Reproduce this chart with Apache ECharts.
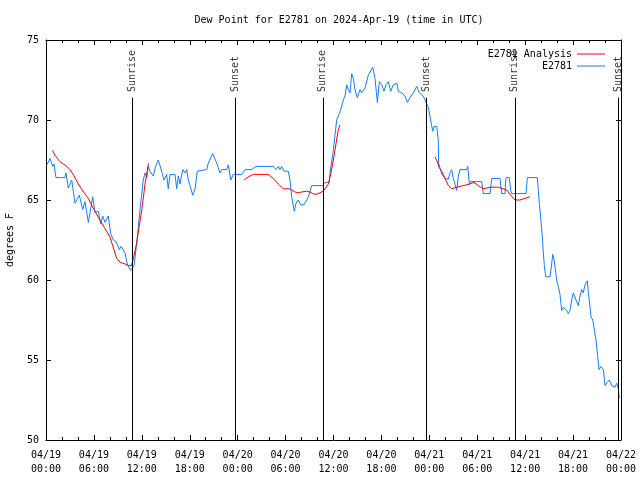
<!DOCTYPE html>
<html><head><meta charset="utf-8">
<script src="https://cdn.jsdelivr.net/npm/echarts@6/dist/echarts.min.js"></script>
<style>html,body{margin:0;padding:0;background:#fff}#c{width:640px;height:480px}</style>
</head><body><div id="c"></div><script>
// hours since 2024-04-19 00:00 UTC
const stationName = 'E2781';
const analysisName = 'E2781 Analysis';
const stationData = [
[0.12,67.2],[0.29,67.25],[0.5,67.6],[0.84,67.1],[1.0,67.25],[1.25,66.4],[2.38,66.4],[2.5,66.7],[2.79,65.75],[3.22,66.25],
[3.63,64.8],[4.17,65.3],[4.6,64.4],[4.88,64.9],[5.3,63.6],[5.85,65.2],[6.14,64.2],[6.55,64.3],[6.85,63.5],[7.1,64.0],
[7.39,63.6],[7.8,64.0],[8.1,62.9],[8.43,62.5],[8.77,62.4],[9.18,61.9],[9.39,62.1],[9.89,61.7],[10.18,61.0],[10.43,60.9],
[10.61,60.6],[11.02,60.9],[11.36,62.3],[11.77,64.4],[12.18,66.25],[12.4,66.7],[12.61,66.4],[12.81,67.1],[13.02,66.8],[13.43,66.5],
[13.73,67.1],[14.06,67.5],[14.36,67.0],[14.78,66.25],[15.11,66.6],[15.31,65.7],[15.53,66.6],[16.15,66.6],[16.37,65.7],[16.57,66.5],
[16.78,66.0],[17.12,66.9],[17.41,66.7],[17.62,66.9],[17.82,66.25],[18.03,65.9],[18.37,65.3],[18.66,65.7],[18.95,66.8],[19.07,66.9],
[20.12,66.9],[20.32,67.3],[20.87,67.9],[21.38,67.3],[21.79,66.7],[22.0,66.9],[22.63,66.9],[22.83,67.2],[23.13,66.25],[23.45,66.6],
[24.5,66.6],[24.92,66.9],[25.76,66.9],[25.96,66.8],[26.3,67.1],[28.46,67.1],[28.8,66.9],[29.09,67.1],[29.3,66.9],[29.51,67.1],
[29.8,66.8],[30.34,66.8],[30.55,66.25],[30.77,65.2],[31.09,64.3],[31.3,64.8],[31.59,65.0],[31.89,64.7],[32.31,64.7],[32.85,65.2],
[33.27,65.9],[34.65,65.9],[34.94,66.1],[35.47,66.1],[35.56,66.7],[35.98,68.1],[36.4,70.0],[36.81,70.5],[37.23,71.25],[37.44,71.5],
[37.65,72.2],[37.85,71.9],[38.07,71.7],[38.28,72.9],[38.48,72.6],[38.69,71.9],[38.98,71.4],[39.32,71.9],[39.53,71.7],[39.94,72.0],
[40.36,72.8],[40.91,73.3],[41.2,72.6],[41.49,71.1],[41.74,72.4],[42.04,72.2],[42.32,71.8],[42.57,72.2],[42.86,72.4],[43.16,71.8],
[43.49,72.2],[43.92,72.3],[44.11,71.8],[44.54,71.7],[44.95,71.5],[45.24,71.1],[45.58,71.4],[45.99,71.7],[46.42,72.1],[46.74,71.7],
[47.25,71.5],[47.67,71.0],[47.87,70.8],[48.08,70.2],[48.42,69.3],[48.59,69.6],[48.92,69.6],[49.12,68.75],[49.16,67.3],[49.34,67.0],
[49.55,66.6],[49.96,66.35],[50.38,66.3],[50.59,66.7],[50.8,66.9],[51.0,66.35],[51.43,65.6],[51.63,66.5],[51.84,66.9],[52.68,66.9],
[52.81,67.1],[53.01,66.0],[53.18,66.15],[54.56,66.15],[54.76,65.4],[55.6,65.4],[55.81,66.35],[56.85,66.35],[57.06,65.4],[57.47,65.4],
[57.6,66.4],[58.01,66.4],[58.19,65.6],[58.32,65.4],[60.11,65.4],[60.27,66.4],[61.52,66.4],[61.77,64.8],[61.94,63.9],[62.15,62.7],
[62.27,61.7],[62.4,60.9],[62.57,60.2],[63.11,60.2],[63.32,61.0],[63.45,61.6],[63.61,61.3],[63.74,60.8],[63.95,60.0],[64.15,59.6],
[64.36,59.1],[64.57,58.1],[64.78,58.3],[64.99,58.2],[65.2,58.1],[65.4,57.9],[65.61,58.1],[65.83,58.75],[66.03,59.2],[66.24,59.2],
[66.45,58.65],[66.65,58.4],[66.87,59.0],[67.08,59.4],[67.28,59.2],[67.49,59.7],[67.78,59.95],[67.91,59.2],[68.12,58.3],[68.24,57.7],
[68.46,57.5],[68.66,57.4],[68.87,56.25],[69.08,55.2],[69.25,54.4],[69.5,54.6],[69.79,54.4],[70.0,53.4],[70.28,53.6],[70.54,53.75],
[70.84,53.4],[71.25,53.3],[71.46,53.55],[71.66,53.2],[71.79,52.6]
];
const analysisSeg1 = [
[0.8,68.1],[1.1,67.8],[1.75,67.4],[2.6,67.1],[3.0,66.9],[3.4,66.6],[4.05,66.0],[4.7,65.5],[5.3,65.1],[5.9,64.5],
[6.75,63.75],[7.4,63.2],[8.0,62.7],[8.45,62.0],[8.85,61.35],[9.3,61.1],[9.9,61.0],[10.3,60.9],[10.7,60.9],[10.95,61.35],
[11.35,62.3],[11.65,63.3],[12.0,64.4],[12.4,66.0],[12.8,67.2],[12.85,67.3]
];
const analysisSeg2 = [
[24.8,66.25],[25.33,66.45],[25.96,66.6],[26.8,66.6],[27.84,66.6],[28.46,66.35],[29.09,66.0],[29.71,65.7],[30.55,65.7],[31.18,65.5],
[31.6,65.45],[32.02,65.5],[32.64,65.55],[33.06,65.5],[33.4,65.4],[33.81,65.35],[34.31,65.45],[34.81,65.6],[35.35,66.0],[35.69,66.7],
[35.98,67.5],[36.31,68.5],[36.6,69.4],[36.81,69.7]
];
const analysisSeg3 = [
[48.71,67.7],[49.0,67.4],[49.25,67.0],[49.55,66.8],[49.96,66.35],[50.38,65.9],[50.8,65.7],[51.43,65.8],[52.25,65.9],[53.09,66.0],
[53.59,66.1],[54.13,65.9],[54.76,65.7],[55.6,65.8],[56.64,65.8],[57.26,65.7],[57.76,65.6],[58.19,65.3],[58.73,65.0],[59.35,65.0],
[59.98,65.1],[60.6,65.2]
];
const sunHours = [10.79, 23.75, 34.66, 47.67, 58.7, 71.66];
const sunNames = ['Sunrise', 'Sunset', 'Sunrise', 'Sunset', 'Sunrise', 'Sunset'];
const xTickLabels = ['04/19\n00:00','04/19\n06:00','04/19\n12:00','04/19\n18:00','04/20\n00:00','04/20\n06:00','04/20\n12:00','04/20\n18:00','04/21\n00:00','04/21\n06:00','04/21\n12:00','04/21\n18:00','04/22\n00:00'];
const yMin = 50, yMax = 75;
const sunLineTop = 71.4;   // where the sun lines end (below the label)
const sunLabelBase = 71.75;

const FONT = 'DejaVu Sans Mono';
const analysisData = analysisSeg1.concat([[12.9,'-']], analysisSeg2, [[36.9,'-']], analysisSeg3);

const chart = echarts.init(document.getElementById('c'), null, {renderer:'canvas'});
const xCommon = {
  type:'value', min:0, max:72, interval:6,
  axisLine:{show:true, onZero:false, lineStyle:{color:'#000', width:1}},
  axisTick:{show:true, inside:true, length:5, lineStyle:{color:'#000'}},
  minorTick:{show:true, splitNumber:3, length:3, lineStyle:{color:'#000'}},
  splitLine:{show:false}, minorSplitLine:{show:false}
};
const yCommon = {
  type:'value', min:yMin, max:yMax, interval:5,
  axisLine:{show:true, onZero:false, lineStyle:{color:'#000', width:1}},
  axisTick:{show:true, inside:true, length:5, lineStyle:{color:'#000'}},
  splitLine:{show:false}
};
chart.setOption({
  animation:false,
  backgroundColor:'#fff',
  title:{text:'Dew Point for E2781 on 2024-Apr-19 (time in UTC)', left:334, top:10, textAlign:'center',
    textStyle:{fontFamily:FONT, fontSize:10, fontWeight:'normal', color:'#000'}},
  grid:{left:46, right:19, top:40, bottom:40, containLabel:false, outerBoundsMode:'none'},
  legend:[
    {data:[analysisName], right:30, top:44, align:'right', icon:'rect', itemWidth:28, itemHeight:1, itemGap:0,
     textStyle:{fontFamily:FONT, fontSize:10, color:'#000'}},
    {data:[stationName], right:30, top:56, align:'right', icon:'rect', itemWidth:28, itemHeight:1, itemGap:0,
     textStyle:{fontFamily:FONT, fontSize:10, color:'#000'}}
  ],
  xAxis:[
    Object.assign({}, xCommon, {position:'bottom',
      axisLabel:{show:true, margin:8, fontFamily:FONT, fontSize:10, color:'#000', lineHeight:14,
        showMinLabel:true, showMaxLabel:true, hideOverlap:false,
        formatter:(v)=> xTickLabels[Math.round(v/6)] || ''}}),
    Object.assign({}, xCommon, {position:'top', axisLabel:{show:false}})
  ],
  yAxis:[
    Object.assign({}, yCommon, {position:'left', name:'degrees F', nameLocation:'middle', nameGap:31, nameRotate:90,
      nameTextStyle:{fontFamily:FONT, fontSize:10, color:'#000'},
      axisLabel:{show:true, margin:7, fontFamily:FONT, fontSize:10, color:'#000'}}),
    Object.assign({}, yCommon, {position:'right', axisLabel:{show:false}})
  ],
  series:[
    {type:'scatter', name:'sun', xAxisIndex:0, yAxisIndex:0, symbolSize:0, silent:true,
     data: sunHours.map((t,i)=>({value:[t, sunLabelBase], name:sunNames[i]})),
     label:{show:true, position:'inside', rotate:90, align:'left', verticalAlign:'middle',
       formatter:(p)=>p.name, fontFamily:FONT, fontSize:10, color:'#000'},
     markLine:{silent:true, symbol:'none', animation:false,
       lineStyle:{color:'#000', width:1, type:'solid'}, label:{show:false},
       data: sunHours.map(t=>[{coord:[t, yMin]},{coord:[t, sunLineTop]}])}
    },
    {type:'line', name:analysisName, data:analysisData, showSymbol:false, symbol:'none', connectNulls:false,
     lineStyle:{color:'#ff0000', width:1}, itemStyle:{color:'#ff0000'}, z:3},
    {type:'line', name:stationName, data:stationData, showSymbol:false, symbol:'none',
     lineStyle:{color:'#1080ff', width:1}, itemStyle:{color:'#1080ff'}, z:2}
  ]
});
</script></body></html>
